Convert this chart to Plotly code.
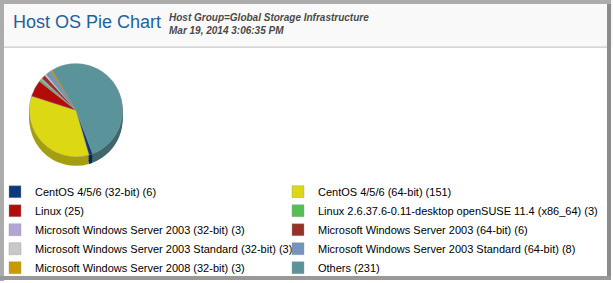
import plotly.graph_objects as go

labels = [
    "CentOS 4/5/6 (32-bit) (6)",
    "CentOS 4/5/6 (64-bit) (151)",
    "Linux (25)",
    "Linux 2.6.37.6-0.11-desktop openSUSE 11.4 (x86_64) (3)",
    "Microsoft Windows Server 2003 (32-bit) (3)",
    "Microsoft Windows Server 2003 (64-bit) (6)",
    "Microsoft Windows Server 2003 Standard (32-bit) (3)",
    "Microsoft Windows Server 2003 Standard (64-bit) (8)",
    "Microsoft Windows Server 2008 (32-bit) (3)",
    "Others (231)",
]
values = [6, 151, 25, 3, 3, 6, 3, 8, 3, 231]
colors = ["#0b3a7c", "#dcd814", "#b40a0a", "#55bf55", "#b4a4d4",
          "#983226", "#c8c8c8", "#7294be", "#c89a00", "#5a9399"]
side_colors = ["#062558", "#a59e10", "#7e0707", "#3b863b", "#7e7394",
               "#6a231b", "#8c8c8c", "#50688a", "#8c6c00", "#3f676c"]

W, H = 613, 283
cx, cy, r, depth = 76, 111, 47, 9

fig = go.Figure()

def dom(offset):
    return dict(x=[(cx - r) / W, (cx + r) / W],
                y=[(H - cy - offset - r) / H, (H - cy - offset + r) / H])

for off in [depth, 7, 5, 3, 1]:
    fig.add_trace(go.Pie(
        labels=labels, values=values, sort=False, direction="clockwise",
        rotation=159, textinfo="none", hoverinfo="skip", showlegend=False,
        marker=dict(colors=side_colors, line=dict(width=0)),
        domain=dom(off)))

fig.add_trace(go.Pie(
    labels=labels, values=values, sort=False, direction="clockwise",
    rotation=159, textinfo="none",
    marker=dict(colors=colors, line=dict(width=0.4, color="#9a9a9a")),
    domain=dom(0)))

shapes = [
    dict(type="rect", xref="paper", yref="paper", x0=0, x1=1, y0=(H - 47) / H, y1=1,
         fillcolor="#f9f9f9", line=dict(width=0), layer="below"),
    dict(type="line", xref="paper", yref="paper", x0=4 / W, x1=607 / W,
         y0=(H - 47.5) / H, y1=(H - 47.5) / H, line=dict(color="#c8c8c8", width=1.2)),
    dict(type="rect", xref="paper", yref="paper", x0=0, x1=4 / W, y0=0, y1=1,
         fillcolor="#acacac", line=dict(width=0)),
    dict(type="rect", xref="paper", yref="paper", x0=0, x1=611 / W, y0=(H - 4) / H, y1=1,
         fillcolor="#acacac", line=dict(width=0)),
    dict(type="rect", xref="paper", yref="paper", x0=607 / W, x1=611 / W, y0=1 / H, y1=(H - 4) / H,
         fillcolor="#8c8c8c", line=dict(width=0)),
    dict(type="rect", xref="paper", yref="paper", x0=0, x1=611 / W, y0=1 / H, y1=5 / H,
         fillcolor="#999999", line=dict(width=0)),
]

annotations = [
    dict(text="Host OS Pie Chart", xref="paper", yref="paper",
         x=11 / W, y=(H - 22.5) / H, xanchor="left", yanchor="middle", showarrow=False,
         font=dict(family="Liberation Sans, Arial", size=18, color="#1d62a0")),
    dict(text="<b><i>Host Group=Global Storage Infrastructure</i></b>", xref="paper", yref="paper",
         x=167 / W, y=(H - 17.5) / H, xanchor="left", yanchor="middle", showarrow=False,
         font=dict(family="Liberation Sans, Arial", size=10, color="#4a4a4a")),
    dict(text="<b><i>Mar 19, 2014 3:06:35 PM</i></b>", xref="paper", yref="paper",
         x=167 / W, y=(H - 30.5) / H, xanchor="left", yanchor="middle", showarrow=False,
         font=dict(family="Liberation Sans, Arial", size=10, color="#4a4a4a")),
]

fig.update_layout(
    width=W, height=H, margin=dict(l=0, r=0, t=0, b=0),
    paper_bgcolor="white", plot_bgcolor="white",
    shapes=shapes, annotations=annotations,
    legend=dict(orientation="h", x=0, xanchor="left", y=(H - 168) / H, yanchor="top",
                entrywidth=243, itemwidth=30, traceorder="normal", indentation=-5,
                title=dict(text="\u00a0" * 270, side="top",
                           font=dict(family="Liberation Sans, Arial", size=8, color="white")),
                font=dict(family="Liberation Sans, Arial", size=11, color="#000000"),
                bgcolor="rgba(0,0,0,0)"),
)

fig.write_html("out.html")
